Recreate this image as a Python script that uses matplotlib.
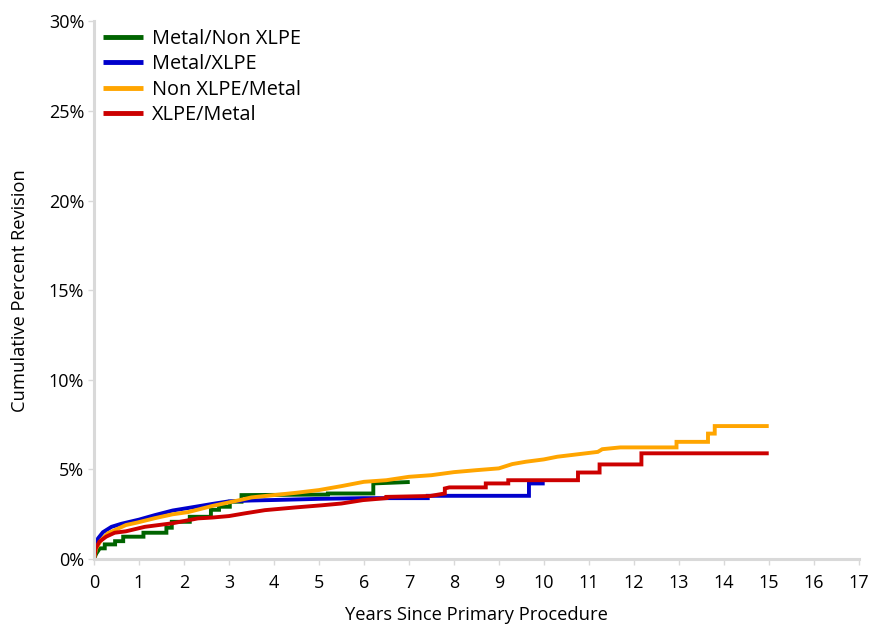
import matplotlib
matplotlib.use("Agg")
import matplotlib.pyplot as plt
from matplotlib.ticker import FuncFormatter

plt.rcParams['font.family'] = ['Open Sans', 'DejaVu Sans']

series_names = ["Metal/Non XLPE", "Metal/XLPE", "Non XLPE/Metal", "XLPE/Metal"]
series_colors = ["#006400", "#0000cc", "#ffa500", "#cc0000"]

# Repeated x values mark visible vertical steps
green_x = [0, 0.05, 0.13, 0.24, 0.24, 0.47, 0.47, 0.65, 0.65, 1.1, 1.1, 1.61, 1.61, 1.73, 1.73, 2.13, 2.13, 2.6, 2.6, 2.78, 2.78, 3.02, 3.02, 3.28, 3.28, 5.2, 5.2, 6.21, 6.21, 7.02]
green_y = [0, 0.3, 0.6, 0.6, 0.82, 0.82, 1.0, 1.0, 1.25, 1.25, 1.47, 1.47, 1.75, 1.75, 2.08, 2.08, 2.36, 2.36, 2.75, 2.75, 2.92, 2.92, 3.2, 3.2, 3.57, 3.6, 3.66, 3.66, 4.22, 4.3]

blue_x = [0, 0.03, 0.09, 0.2, 0.39, 0.61, 1.0, 1.35, 1.75, 2.09, 2.64, 3.0, 3.5, 4.06, 5.0, 6.0, 7.42, 7.42, 9.67, 9.67, 10.02]
blue_y = [0, 0.7, 1.15, 1.5, 1.8, 1.97, 2.2, 2.45, 2.71, 2.85, 3.08, 3.22, 3.27, 3.3, 3.36, 3.4, 3.4, 3.53, 3.53, 4.22, 4.22]

orange_x = [0, 0.05, 0.16, 0.31, 0.71, 0.98, 1.35, 1.75, 2.09, 2.64, 3.24, 3.5, 4.0, 4.5, 5.0, 5.5, 6.0, 6.5, 7.0, 7.5, 8.0, 8.5, 9.0, 9.3, 9.6, 10.0, 10.3, 10.8, 11.2, 11.3, 11.7, 12.95, 12.95, 13.65, 13.65, 13.8, 13.8, 15.0]
orange_y = [0, 0.6, 1.06, 1.44, 1.9, 2.05, 2.28, 2.5, 2.62, 2.97, 3.29, 3.44, 3.57, 3.7, 3.85, 4.07, 4.31, 4.4, 4.59, 4.68, 4.85, 4.96, 5.06, 5.3, 5.43, 5.56, 5.71, 5.86, 5.98, 6.13, 6.23, 6.23, 6.54, 6.54, 7.0, 7.0, 7.42, 7.42]

red_x = [0, 0.04, 0.12, 0.27, 0.46, 0.71, 1.13, 1.75, 2.31, 2.64, 3.0, 3.35, 3.8, 4.47, 5.06, 5.5, 5.98, 6.5, 6.5, 7.47, 7.8, 7.8, 7.9, 8.71, 8.71, 9.21, 9.21, 10.76, 10.76, 11.24, 11.24, 12.17, 12.17, 15.0]
red_y = [0, 0.6, 0.97, 1.25, 1.47, 1.55, 1.8, 2.0, 2.27, 2.32, 2.4, 2.55, 2.73, 2.88, 3.0, 3.1, 3.29, 3.4, 3.47, 3.52, 3.66, 3.94, 4.0, 4.0, 4.22, 4.22, 4.4, 4.4, 4.83, 4.83, 5.28, 5.28, 5.9, 5.9]

x_ticks = list(range(0, 18))
y_ticks = [0, 5, 10, 15, 20, 25, 30]

fig = plt.figure(figsize=(8.7, 6.24), dpi=100)
ax = fig.add_axes([0.108, 0.104, 0.879, 0.862])

all_x = [green_x, blue_x, orange_x, red_x]
all_y = [green_y, blue_y, orange_y, red_y]
for xs, ys, name, col in zip(all_x, all_y, series_names, series_colors):
    ax.plot(xs, ys, color=col, lw=2.8, label=name,
            solid_capstyle='butt', solid_joinstyle='miter')

ax.set_xlim(0, 17)
ax.set_ylim(0, 30)
ax.set_xticks(x_ticks)
ax.set_yticks(y_ticks)
ax.yaxis.set_major_formatter(FuncFormatter(lambda v, p: f"{int(v)}%"))

for s in ['top', 'right']:
    ax.spines[s].set_visible(False)
for s in ['left', 'bottom']:
    ax.spines[s].set_color('#d9d9d9')
    ax.spines[s].set_linewidth(2.2)
ax.tick_params(axis='both', colors='#d9d9d9', labelcolor='black', labelsize=13,
               length=4, width=1)
ax.tick_params(axis='x', pad=7)
ax.tick_params(axis='y', pad=3)

ax.set_xlabel("Years Since Primary Procedure", fontsize=13.2, labelpad=10)
ax.set_ylabel("Cumulative Percent Revision", fontsize=13.2, labelpad=14)

leg = ax.legend(loc='upper left', bbox_to_anchor=(0.012, 0.985), frameon=False,
                fontsize=14.3, handlelength=2.0, labelspacing=0.26,
                handletextpad=0.45, borderaxespad=0.0, borderpad=0.0)
for h in leg.get_lines():
    h.set_linewidth(3.5)

fig.savefig("out.png", dpi=100)
